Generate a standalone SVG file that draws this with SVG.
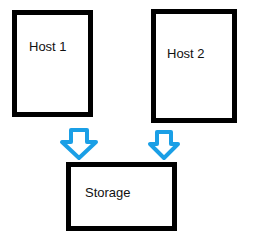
<svg xmlns="http://www.w3.org/2000/svg" width="260" height="243" viewBox="0 0 260 243">
<style>
.box{fill:#fff;stroke:#000;stroke-width:5}
.lbl{font-family:"Liberation Sans",Arial,sans-serif;font-size:13px;fill:#111}
.arr{fill:#fff;stroke:#1a9fe6;stroke-width:4;stroke-linejoin:round}
</style>
<rect width="260" height="243" fill="#fff"/>
<g id="host1"><rect class="box" x="14.5" y="12.5" width="76" height="102"/><text class="lbl" x="29" y="51">Host 1</text></g>
<g id="host2"><rect class="box" x="153.5" y="11.5" width="81" height="109"/><text class="lbl" x="167" y="58">Host 2</text></g>
<g id="storage"><rect class="box" x="68.5" y="164.5" width="106" height="64"/><text class="lbl" x="85" y="197">Storage</text></g>
<g id="connectors">
<path class="arr" d="M71 130 H87 V142 H96 L79 158 L62 142 H71 Z"/>
<path class="arr" d="M157 132 H171 V144 H178 L164 158 L150 144 H157 Z"/>
</g>
</svg>
